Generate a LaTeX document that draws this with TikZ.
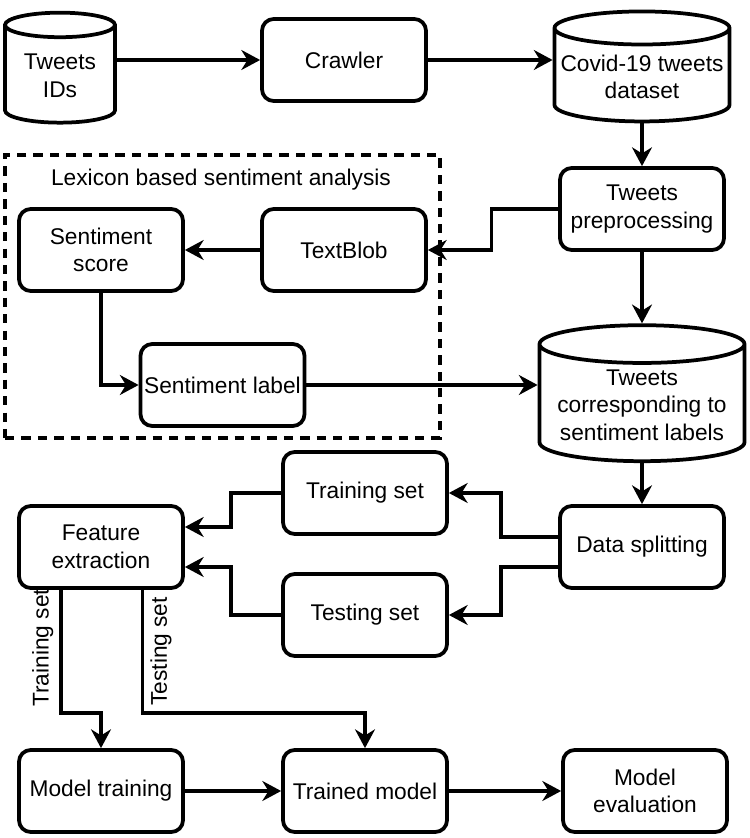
\documentclass[tikz,border=0pt]{standalone}
\usepackage{fontspec}
\setmainfont{Liberation Sans}
\usetikzlibrary{shapes.geometric, arrows.meta, positioning, calc}
\newcommand{\fsz}{\fontsize{19.4pt}{23.5pt}\selectfont}
\tikzset{
  % --- Hop / co so du lieu ---------------------------------
  box/.style={draw, rounded corners=10pt, line width=3.2pt, fill=white,
    minimum width=4.92cm, minimum height=2.46cm, align=center,
    font=\fsz, inner sep=1pt},
  db/.style={draw, cylinder, shape border rotate=90, line width=3.2pt,
    fill=white, align=center, font=\fsz, inner sep=1pt},
  grp/.style={draw, line width=3.2pt, dash pattern=on 8pt off 6pt},
  % --- Mui ten ----------------------------------------------
  arr/.style={-{Stealth[length=16pt, width=17pt]}, line width=3pt},
  lbl/.style={font=\fsz, inner sep=5pt}
}
\begin{document}
\begin{tikzpicture}

  \useasboundingbox (0,0) rectangle (22.5,25.14);

  % --- Nhom lexicon -----------------------------------------
  \node[grp, minimum width=13.05cm, minimum height=8.49cm] (lexgrp) at (6.675,16.245) {};
  \node[lbl] (lextitle) at (6.63,19.74) {Lexicon based sentiment analysis};

  % --- Hang tren ---------------------------------------------
  \node[db, aspect=0.33, minimum width=3.3cm, minimum height=3.3cm] (ids) at (1.8,22.86) {Tweets\\IDs};
  \node[box] (crawler) at (10.32,23.34) {Crawler};
  \node[db, aspect=0.2, minimum width=5.25cm, minimum height=3.3cm] (covid) at (19.26,22.83) {Covid-19 tweets\\dataset};

  % --- Tien xu ly / lexicon ----------------------------------
  \node[box] (prep) at (19.26,18.87) {Tweets\\preprocessing};
  \node[box] (textblob) at (10.32,17.64) {TextBlob};
  \node[box] (score) at (3.03,17.64) {Sentiment\\score};
  \node[box] (label) at (6.675,13.59) {Sentiment label};
  \node[db, aspect=0.22, minimum width=6.15cm, minimum height=4.08cm] (tcorr) at (19.26,12.99) {Tweets\\corresponding to\\sentiment labels};

  % --- Chia du lieu ------------------------------------------
  \node[box] (split) at (19.26,8.73) {Data splitting};
  \node[box] (train) at (10.95,10.35) {Training set};
  \node[box] (test) at (10.95,6.69) {Testing set};
  \node[box] (feat) at (3.03,8.73) {Feature\\extraction};

  % --- Hang duoi ---------------------------------------------
  \node[box] (mtrain) at (3.03,1.41) {Model training};
  \node[box] (trained) at (10.95,1.41) {Trained model};
  \node[box] (eval) at (19.35,1.41) {Model\\evaluation};

  % --- Luong chinh -------------------------------------------
  \draw[arr] (ids.east |- crawler.west) -- (crawler.west);
  \draw[arr] (crawler.east) -- (crawler.east -| covid.west);
  \draw[arr] (covid.south) -- (prep.north);
  \draw[arr] (prep.west) -- ++(-2.0,0) |- (textblob.east);
  \draw[arr] (textblob.west) -- (score.east);
  \draw[arr] (score.south) |- (label.west);
  \draw[arr] (label.east) -- (label.east -| tcorr.west);
  \draw[arr] (prep.south) -- (tcorr.north);
  \draw[arr] (tcorr.south) -- (split.north);

  % --- Tach tap ----------------------------------------------
  \draw[arr] ([yshift=0.3cm]split.west) -- ++(-1.71,0) |- (train.east);
  \draw[arr] ([yshift=-0.6cm]split.west) -- ++(-1.71,0) |- (test.east);
  \draw[arr] (train.west) -- ++(-1.5,0) |- ([yshift=0.6cm]feat.east);
  \draw[arr] (test.west) -- ++(-1.5,0) |- ([yshift=-0.6cm]feat.east);

  % --- Huan luyen / danh gia ---------------------------------
  \draw[arr] ([xshift=-1.2cm]feat.south) -- ++(0,-3.69)
    node[lbl, rotate=90, above, pos=0.47] {Training set} -| (mtrain.north);
  \draw[arr] ([xshift=1.25cm]feat.south) -- ++(0,-3.69)
    node[lbl, rotate=90, below, pos=0.5] {Testing set} -| (trained.north);
  \draw[arr] (mtrain.east) -- (trained.west);
  \draw[arr] (trained.east) -- (eval.west);

\end{tikzpicture}
\end{document}
